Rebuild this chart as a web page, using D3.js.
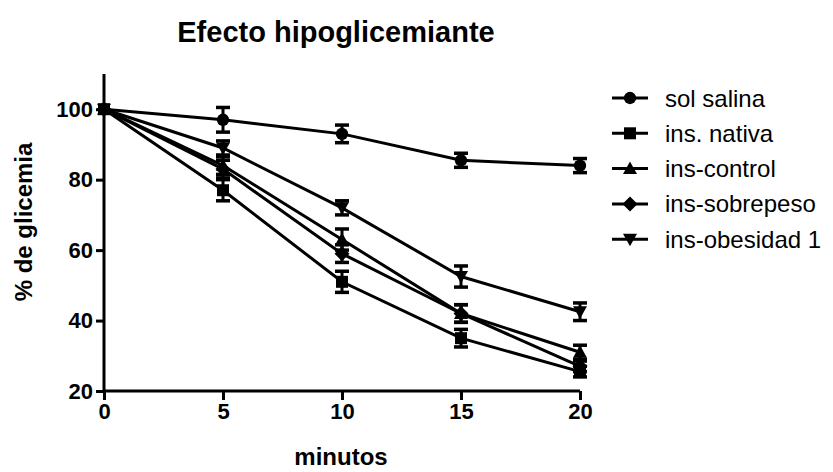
<!DOCTYPE html>
<html>
<head>
<meta charset="utf-8">
<script src="https://cdn.jsdelivr.net/npm/d3@7"></script>
<style>
  body { margin: 0; background: #fff; }
  svg text { font-family: "Liberation Sans", Arial, sans-serif; fill: #000; }
</style>
</head>
<body>
<svg id="chart" width="833" height="472"></svg>
<script>
var minutes = [0, 5, 10, 15, 20];
var seriesNames = ["sol salina", "ins. nativa", "ins-control", "ins-sobrepeso", "ins-obesidad 1"];
var salina = [100, 97, 93, 85.5, 84];
var salinaErr = [0, 3.5, 2.5, 2, 2];
var nativa = [100, 77, 51, 35, 25.5];
var nativaErr = [0, 3, 3, 2.5, 1.5];
var control = [100, 84, 63, 42, 31];
var controlErr = [0, 2.5, 3, 2.5, 2];
var sobrepeso = [100, 83, 59, 42, 27];
var sobrepesoErr = [0, 2.5, 2.5, 2.5, 1.5];
var obesidad = [100, 89, 72, 52.5, 42.5];
var obesidadErr = [0, 2, 2, 3, 2.5];
var yTicks = [20, 40, 60, 80, 100];
var xTicks = [0, 5, 10, 15, 20];

var series = [
    {name: seriesNames[0], values: salina, err: salinaErr, symbol: "circle"},
    {name: seriesNames[1], values: nativa, err: nativaErr, symbol: "square"},
    {name: seriesNames[2], values: control, err: controlErr, symbol: "up"},
    {name: seriesNames[3], values: sobrepeso, err: sobrepesoErr, symbol: "diamond"},
    {name: seriesNames[4], values: obesidad, err: obesidadErr, symbol: "down"}
];

var svg = d3.select("#chart");

var x = d3.scaleLinear().domain([0, 20]).range([104, 580]);
var y = d3.scaleLinear().domain([20, 110]).range([391, 74]);

// marker shapes drawn as paths centred on 0,0
function markerPath(kind) {
    var s = 6;
    if (kind == "circle") return d3.symbol().type(d3.symbolCircle).size(120)();
    if (kind == "square") return "M" + (-s) + "," + (-s) + "H" + s + "V" + s + "H" + (-s) + "Z";
    if (kind == "up") return "M0," + (-s - 1) + "L" + (s + 1) + "," + (s - 0.5) + "L" + (-s - 1) + "," + (s - 0.5) + "Z";
    if (kind == "down") return "M0," + (s + 1) + "L" + (s + 1) + "," + (-s + 0.5) + "L" + (-s - 1) + "," + (-s + 0.5) + "Z";
    if (kind == "diamond") return "M0," + (-s - 1.5) + "L" + (s + 1.5) + ",0L0," + (s + 1.5) + "L" + (-s - 1.5) + ",0Z";
}

// title
svg.append("text")
   .attr("x", 336).attr("y", 42)
   .attr("text-anchor", "middle")
   .style("font-size", "29px").style("font-weight", "bold")
   .text("Efecto hipoglicemiante");

// axes
var yAxis = d3.axisLeft(y).tickValues(yTicks).tickSize(8).tickPadding(3);
var xAxis = d3.axisBottom(x).tickValues(xTicks).tickSize(9).tickPadding(3);

var gy = svg.append("g").attr("transform", "translate(104,0)").call(yAxis);
var gx = svg.append("g").attr("transform", "translate(0,391)").call(xAxis);

[gy, gx].forEach(function(g) {
    g.select(".domain").attr("stroke", "#000").attr("stroke-width", 3);
    g.selectAll(".tick line").attr("stroke", "#000").attr("stroke-width", 3);
    g.selectAll(".tick text")
     .style("font-size", "22px").style("font-weight", "bold")
     .style("font-family", "'Liberation Sans', Arial, sans-serif");
});
gy.select(".domain").attr("d", "M0," + y(110) + "V" + y(20));
gx.select(".domain").attr("d", "M" + x(0) + ",0H" + x(20));

svg.append("text")
   .attr("transform", "translate(32,222) rotate(-90)")
   .attr("text-anchor", "middle")
   .style("font-size", "24px").style("font-weight", "bold")
   .text("% de glicemia");

svg.append("text")
   .attr("x", 341).attr("y", 465)
   .attr("text-anchor", "middle")
   .style("font-size", "24px").style("font-weight", "bold")
   .text("minutos");

var line = d3.line()
    .x(function(d, i) { return x(minutes[i]); })
    .y(function(d) { return y(d); });

var plot = svg.append("g");

series.forEach(function(s) {
    plot.append("path")
        .datum(s.values)
        .attr("d", line)
        .attr("fill", "none")
        .attr("stroke", "#000")
        .attr("stroke-width", 3);
});

series.forEach(function(s) {
    var g = plot.append("g");
    s.values.forEach(function(v, i) {
        var e = s.err[i];
        if (e > 0) {
            var cx = x(minutes[i]);
            g.append("line")
             .attr("x1", cx).attr("x2", cx)
             .attr("y1", y(v + e)).attr("y2", y(v - e))
             .attr("stroke", "#000").attr("stroke-width", 3);
            [v + e, v - e].forEach(function(ev) {
                g.append("line")
                 .attr("x1", cx - 7).attr("x2", cx + 7)
                 .attr("y1", y(ev)).attr("y2", y(ev))
                 .attr("stroke", "#000").attr("stroke-width", 3.5);
            });
        }
        g.append("path")
         .attr("d", markerPath(s.symbol))
         .attr("transform", "translate(" + x(minutes[i]) + "," + y(v) + ")")
         .attr("fill", "#000");
    });
});

// legend
var legend = svg.append("g");
series.forEach(function(s, i) {
    var ly = 98 + i * 35.3;
    legend.append("line")
          .attr("x1", 612).attr("x2", 648)
          .attr("y1", ly).attr("y2", ly)
          .attr("stroke", "#000").attr("stroke-width", 3);
    legend.append("path")
          .attr("d", markerPath(s.symbol))
          .attr("transform", "translate(630," + ly + ")")
          .attr("fill", "#000");
    legend.append("text")
          .attr("x", 665).attr("y", ly + 8.5)
          .style("font-size", "24px")
          .text(s.name);
});
</script>
</body>
</html>
